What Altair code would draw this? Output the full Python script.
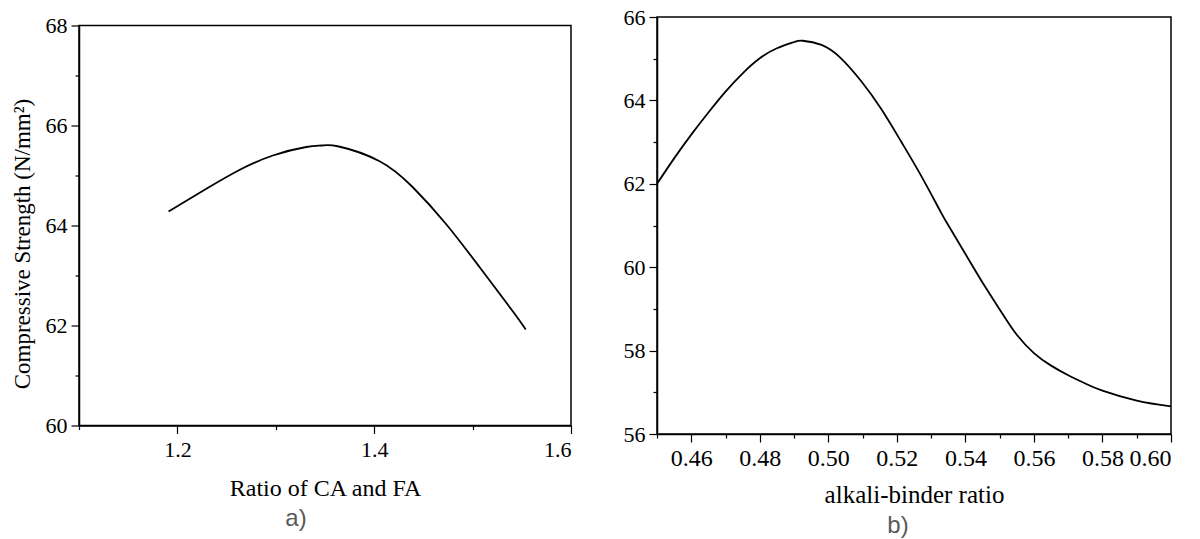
import altair as alt
import pandas as pd

# ---- data ----
left_x = [1.191, 1.229, 1.263, 1.297, 1.331, 1.347, 1.364, 1.405, 1.439, 1.473, 1.507, 1.541, 1.554]
left_y = [64.28, 64.73, 65.11, 65.40, 65.57, 65.60, 65.58, 65.29, 64.77, 64.03, 63.17, 62.28, 61.92]

right_x = [0.450, 0.455, 0.460, 0.465, 0.470, 0.475, 0.480, 0.485, 0.490, 0.4925, 0.498,
           0.5037, 0.5095, 0.5154, 0.5212, 0.5271, 0.5329, 0.5358, 0.541, 0.546, 0.551, 0.555,
           0.560, 0.565, 0.570, 0.575, 0.580, 0.590, 0.600]
right_y = [62.00, 62.61, 63.18, 63.71, 64.21, 64.65, 65.01, 65.25, 65.40, 65.43, 65.33,
           65.01, 64.47, 63.80, 63.02, 62.19, 61.31, 60.90, 60.18, 59.50, 58.86, 58.38,
           57.94, 57.64, 57.41, 57.21, 57.04, 56.80, 56.66]

left_x_major = [1.2, 1.4, 1.6]
left_x_minor = [1.1, 1.3, 1.5]
left_y_major = [60, 62, 64, 66, 68]
left_y_minor = [61, 63, 65, 67]
right_x_major = [0.46, 0.48, 0.50, 0.52, 0.54, 0.56, 0.58, 0.60]
right_x_minor = [0.45, 0.47, 0.49, 0.51, 0.53, 0.55, 0.57, 0.59]
right_y_major = [56, 58, 60, 62, 64, 66]
right_y_minor = [57, 59, 61, 63, 65]

left_x_title = "Ratio of CA and FA"
left_y_title = "Compressive Strength (N/mm\u00b2)"
right_x_title = "alkali-binder ratio"

SERIF = "Liberation Serif"
LABEL_FONT = "Liberation Serif, Times New Roman, DejaVu Serif, serif"


def major_axis(values, fmt, title, label_size, title_size, **kw):
    return alt.Axis(
        values=values, format=fmt, title=title, grid=False, tickSize=8,
        labelFont=LABEL_FONT, labelFontSize=label_size, labelColor="black",
        titleFont=SERIF, titleFontSize=title_size, titleFontWeight="normal", titleColor="black",
        domainColor="black", domainWidth=1.5, tickColor="black", tickWidth=1.2,
        labelOverlap=False, **kw,
    )


def minor_axis(values, orient):
    return alt.Axis(
        values=values, orient=orient, labels=False, title=None, grid=False, domain=False,
        tickSize=4, tickColor="black", tickWidth=1.2,
    )


def panel(df, xdom, ydom, xmaj, xmin, ymaj, ymin, xfmt, yfmt, xtitle, ytitle,
          xlab, ylab, xtit, xkw, ykw, w, h, sub, sub_off, sub_dx):
    xs = alt.Scale(domain=xdom, nice=False, zero=False)
    ys = alt.Scale(domain=ydom, nice=False, zero=False)
    line = alt.Chart(df).mark_line(color="black", strokeWidth=1.8, interpolate="natural").encode(
        x=alt.X("x:Q", scale=xs, axis=major_axis(xmaj, xfmt, xtitle, xlab, xtit, orient="bottom", **xkw)),
        y=alt.Y("y:Q", scale=ys, axis=major_axis(ymaj, yfmt, ytitle, ylab, 23, orient="left", **ykw)),
    )
    minor = alt.Chart(df).mark_point(opacity=0).encode(
        x=alt.X("x:Q", scale=xs, axis=minor_axis(xmin, "bottom")),
        y=alt.Y("y:Q", scale=ys, axis=minor_axis(ymin, "left")),
    )
    return alt.layer(line, minor).resolve_axis(x="independent", y="independent").properties(
        width=w, height=h,
        title=alt.TitleParams(text=sub, orient="bottom", font="Liberation Sans", fontSize=24,
                              fontWeight="normal", color="#595959", offset=sub_off,
                              frame="group", dx=sub_dx),
    )


left_df = pd.DataFrame({"x": left_x, "y": left_y})
right_df = pd.DataFrame({"x": right_x, "y": right_y})

left = panel(left_df, [1.1, 1.6], [60, 68], left_x_major, left_x_minor, left_y_major, left_y_minor,
             ".1f", "d", left_x_title, left_y_title, 22, 22, 24,
             dict(labelPadding=6, titlePadding=16), dict(labelPadding=4, titlePadding=11, titleY=218),
             492, 400, "a)", 6, -29)

right = panel(right_df, [0.45, 0.60], [56, 66], right_x_major, right_x_minor, right_y_major, right_y_minor,
              ".2f", "d", right_x_title, None, 24, 22, 25,
              dict(labelPadding=4, titlePadding=12), dict(labelPadding=4),
              514, 417, "b)", 7, -16)

chart = alt.hconcat(left, right, spacing=86, center=True, bounds="flush").properties(
    padding={"left": 2, "top": -3, "right": 0, "bottom": 0},
    background="white",
).configure(
    style={"guide-label": {"font": LABEL_FONT}, "guide-title": {"font": SERIF}},
).configure_view(
    stroke="black", strokeWidth=1.5
).configure_axis(
    labelFont=LABEL_FONT, titleFont=SERIF
)

chart.save("out.html", embed_options={"renderer": "svg", "actions": False})
